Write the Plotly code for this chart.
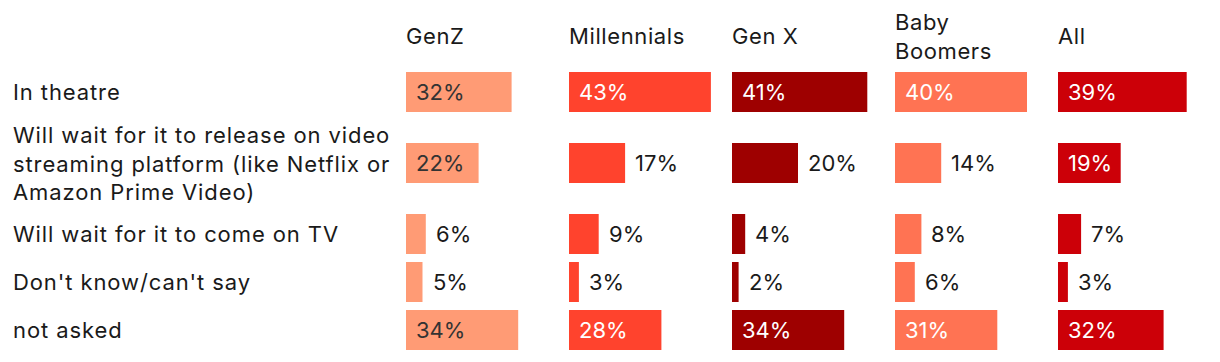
import textwrap
import plotly.graph_objects as go

# ---------------- data ----------------
categories = [
    "In theatre",
    "Will wait for it to release on video streaming platform (like Netflix or Amazon Prime Video)",
    "Will wait for it to come on TV",
    "Don't know/can't say",
    "not asked",
]
groups = ["GenZ", "Millennials", "Gen X", "Baby Boomers", "All"]
genz = [32, 22, 6, 5, 34]
millennials = [43, 17, 9, 3, 28]
gen_x = [41, 20, 4, 2, 34]
baby_boomers = [40, 14, 8, 6, 31]
all_resp = [39, 19, 7, 3, 32]
series = [genz, millennials, gen_x, baby_boomers, all_resp]

# ---------------- styles ----------------
colors = ["#ff9b75", "#ff432d", "#9e0000", "#ff7353", "#cc0008"]
inside_text_colors = ["#333333", "#ffffff", "#ffffff", "#ffffff", "#ffffff"]
label_inside = [
    [True, True, False, False, True],
    [True, False, False, False, True],
    [True, False, False, False, True],
    [True, False, False, False, True],
    [True, True, False, False, True],
]
FONT = "Inter"
FS = 22
TXT = "#1a1a1a"
LABEL_SPACING = "0.9px"
HEADER_SPACING = "0.6px"

PAGE_OFF = 8              # browser body margin
W, H = 1204, 346
PANEL_X0, PANEL_STEP, PX_PER_UNIT, XMAX = 406, 163, 3.3, 45
TOP, LINE_H, ROW_PAD, BAR_H = 68, 23, 25, 40
HEADER_Y = 36
LABEL_X = 13


def px(xr):
    return (xr - PAGE_OFF) / W


def spaced(lines, ls):
    return "<br>".join(f'<span style="letter-spacing:{ls}">{ln}</span>' for ln in lines)


wrapped = [textwrap.wrap(c, 36) for c in categories]
centers = []
y = TOP
for lines in wrapped:
    band = ROW_PAD + LINE_H * len(lines)
    centers.append(y + band / 2)
    y += band

fig = go.Figure()
annotations = []
for i, (g, vals) in enumerate(zip(groups, series)):
    ax = "x" if i == 0 else f"x{i + 1}"
    x0 = px(PANEL_X0 + PANEL_STEP * i)
    x1 = px(PANEL_X0 + PANEL_STEP * i + XMAX * PX_PER_UNIT)
    key = "xaxis" if i == 0 else f"xaxis{i + 1}"
    fig.update_layout(**{key: dict(domain=[x0, x1], range=[0, XMAX], visible=False,
                                   anchor="y", fixedrange=True)})
    fig.add_trace(go.Bar(x=vals, y=centers, orientation="h", width=BAR_H,
                         marker=dict(color=colors[i], line=dict(width=0)),
                         xaxis=ax, yaxis="y", hoverinfo="skip", showlegend=False))
    for j, v in enumerate(vals):
        inside = label_inside[i][j]
        annotations.append(dict(
            xref=ax, yref="y", x=0 if inside else v, y=centers[j],
            xanchor="left", yanchor="middle", xshift=8, showarrow=False,
            text=f"{v}%",
            font=dict(family=FONT, size=FS,
                      color=inside_text_colors[i] if inside else TXT)))
    annotations.append(dict(
        xref=ax, yref="y", x=0, y=HEADER_Y, xanchor="left", yanchor="middle",
        xshift=-2, align="left", showarrow=False,
        text=spaced(textwrap.wrap(g, 11), HEADER_SPACING),
        font=dict(family=FONT, size=FS, color=TXT)))

for lines, c in zip(wrapped, centers):
    annotations.append(dict(
        xref="paper", yref="y", x=px(LABEL_X), y=c, xanchor="left", yanchor="middle",
        xshift=-2, align="left", showarrow=False, text=spaced(lines, LABEL_SPACING),
        font=dict(family=FONT, size=FS, color=TXT)))

fig.update_layout(
    width=W, height=H,
    margin=dict(l=0, r=0, t=0, b=0),
    paper_bgcolor="white", plot_bgcolor="white",
    yaxis=dict(domain=[0, 1], range=[H + PAGE_OFF, PAGE_OFF], visible=False,
               fixedrange=True),
    annotations=annotations,
    barmode="overlay",
    showlegend=False,
)

fig.write_html("out.html")
